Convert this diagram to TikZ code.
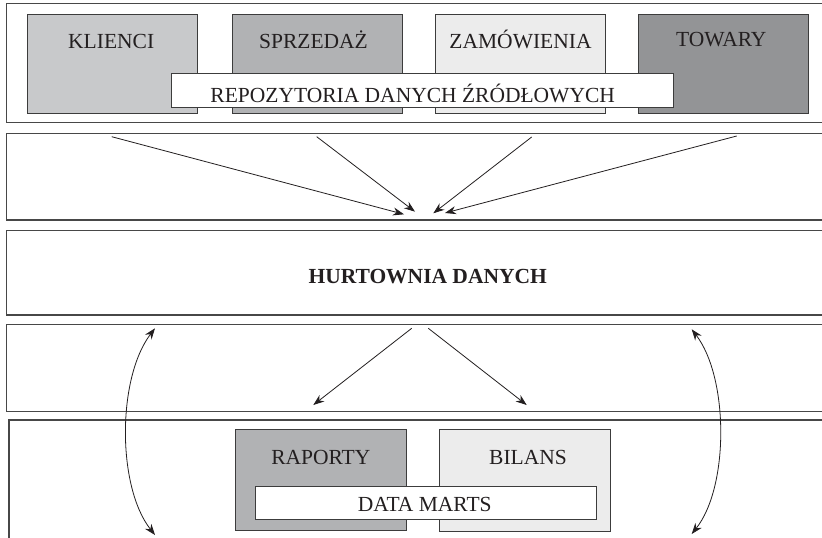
\documentclass[tikz,border=0pt]{standalone}
\usepackage{fontspec}
\setmainfont{Liberation Serif}
\usetikzlibrary{arrows.meta}

\definecolor{inkc}{HTML}{231F20}
\definecolor{gA}{HTML}{C8C9CB}
\definecolor{gB}{HTML}{B1B2B4}
\definecolor{gC}{HTML}{ECECEC}
\definecolor{gD}{HTML}{939496}
\definecolor{edgec}{HTML}{3C3C3C}
\definecolor{bandc}{HTML}{474747}

\tikzset{
  band/.style={draw=bandc, line width=1.1pt, fill=white},
  store/.style={draw=edgec, line width=0.9pt, rectangle, inner sep=0pt,
                minimum width=170pt, minimum height=99pt},
  caption/.style={draw=edgec, line width=0.9pt, fill=white, rectangle, inner sep=0pt},
  lbl/.style={text=inkc, font=\fontsize{21.5}{24}\selectfont, inner sep=0pt, anchor=base},
  tip/.style={Stealth[length=11pt,width=8pt]},
  flow/.style={-{Stealth[length=11pt,width=8pt]}, line width=0.8pt, draw=inkc},
  twoway/.style={{Stealth[length=11pt,width=8pt]}-{Stealth[length=11pt,width=8pt]},
                 line width=0.8pt, draw=inkc},
}

\begin{document}
\begin{tikzpicture}[x=1pt, y=-1pt]
  \useasboundingbox (0,0) rectangle (822,538);
  \clip (0,0) rectangle (822,538);

  % horizontal layers
  \draw[band] (6.5,3.5)   rectangle (840,122.5);
  \draw[band] (6.7,133.3) rectangle (840,220);
  \draw[band] (6.7,230.7) rectangle (840,315);
  \draw[band] (6.7,324.3) rectangle (840,411.7);
  \draw[band] (9,420)     rectangle (840,560);

  % source repositories
  \node[store, fill=gA] (klienci)    at (112,63.5)   {};
  \node[store, fill=gB] (sprzedaz)   at (317.3,63.5) {};
  \node[store, fill=gC] (zamowienia) at (520.8,63.5) {};
  \node[store, fill=gD] (towary)     at (723.5,63.5) {};
  \node[lbl] (tklienci)    at (111.2,48.3) {KLIENCI};
  \node[lbl] (tsprzedaz)   at (313.5,48.3) {SPRZEDAŻ};
  \node[lbl] (tzamowienia) at (520.5,48.3) {ZAMÓWIENIA};
  \node[lbl] (ttowary)     at (721.3,46.7) {TOWARY};
  \node[caption, minimum width=502pt, minimum height=34pt] (repo) at (422.3,90.3) {};
  \node[lbl] (trepo) at (412.7,102.7) {REPOZYTORIA DANYCH ŹRÓDŁOWYCH};

  % loading into the warehouse
  \coordinate (s1) at (111.7,136.7);
  \coordinate (s2) at (316.7,136.7);
  \coordinate (s3) at (531.7,137);
  \coordinate (s4) at (736.7,136);
  \coordinate (e1) at (404,214.3);
  \coordinate (e2) at (415,211.7);
  \coordinate (e3) at (433.3,213.3);
  \coordinate (e4) at (445,213);
  \draw[flow] (s1) -- (e1);
  \draw[flow] (s2) -- (e2);
  \draw[flow] (s3) -- (e3);
  \draw[flow] (s4) -- (e4);

  % warehouse
  \node[lbl, font=\fontsize{21.5}{24}\selectfont\bfseries] (hurtownia) at (427.7,283.3) {HURTOWNIA DANYCH};

  % distribution to data marts
  \coordinate (d1) at (411.7,328.3);
  \coordinate (d2) at (428.3,328.3);
  \coordinate (f1) at (313.3,405);
  \coordinate (f2) at (526.7,405);
  \draw[flow] (d1) -- (f1);
  \draw[flow] (d2) -- (f2);

  % two-way links
  \coordinate (lt) at (155,328.3);
  \coordinate (lb) at (155,535);
  \coordinate (rt) at (691.7,329.3);
  \coordinate (rb) at (691.7,534);
  \draw[twoway] (lt) .. controls (117,378) and (117,487) .. (lb);
  \draw[twoway] (rt) .. controls (729,378) and (729,487) .. (rb);

  % data marts
  \node[store, fill=gB, minimum width=170.3pt, minimum height=101.7pt] (raporty) at (320.8,479.8) {};
  \node[store, fill=gC, minimum width=170.7pt, minimum height=102pt] (bilans) at (524.7,480) {};
  \node[lbl] (traporty) at (320.8,464.3) {RAPORTY};
  \node[lbl] (tbilans)  at (528,464.3) {BILANS};
  \node[caption, minimum width=340.3pt, minimum height=33.3pt] (marts) at (425.8,502.7) {};
  \node[lbl] (tmarts) at (424.7,511.7) {DATA MARTS};
\end{tikzpicture}
\end{document}
